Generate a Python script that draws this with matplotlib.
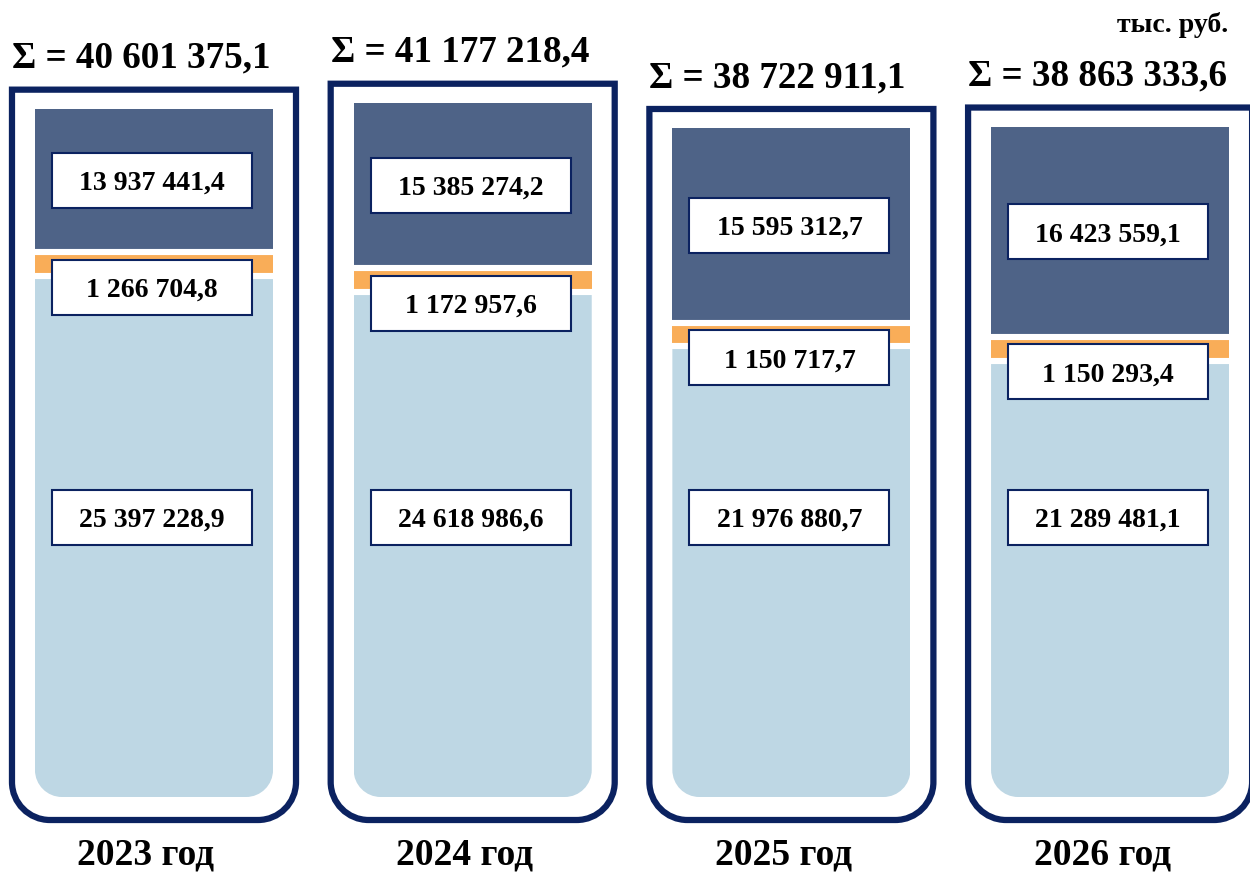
import numpy as np
import matplotlib
matplotlib.use('Agg')
import matplotlib.pyplot as plt
from matplotlib.path import Path
from matplotlib.patches import PathPatch, Rectangle
from matplotlib.transforms import IdentityTransform

# ---------------- data (тыс. руб.) ----------------
years = ['2023 год', '2024 год', '2025 год', '2026 год']
bottom_vals = [25397228.9, 24618986.6, 21976880.7, 21289481.1]
middle_vals = [1266704.8, 1172957.6, 1150717.7, 1150293.4]
top_vals = [13937441.4, 15385274.2, 15595312.7, 16423559.1]
unit_label = 'тыс. руб.'

C_DARK = '#4E6387'
C_ORANGE = '#F9AD58'
C_LIGHT = '#BED7E4'
C_NAVY = '#0B2260'

plt.rcParams['font.family'] = ['Liberation Serif', 'DejaVu Serif']
plt.rcParams['font.weight'] = 'bold'


def fmt(v):
    s = f'{v:,.1f}'
    return s.replace(',', ' ').replace('.', ',')


# piecewise-linear (compressed above the knee) value scale
KNEE = 26.5e6
RATIO = 0.502


def fwd(y):
    y = np.asarray(y, float)
    return np.where(y <= KNEE, y, KNEE + RATIO * (y - KNEE))


def inv(y):
    y = np.asarray(y, float)
    return np.where(y <= KNEE, y, KNEE + (y - KNEE) / RATIO)


def rb_path(x0, x1, y0, y1, r):
    k = 0.5523 * r
    verts = [(x0, y1), (x0, y0 + r), (x0, y0 + r - k), (x0 + r - k, y0), (x0 + r, y0),
             (x1 - r, y0), (x1 - r + k, y0), (x1, y0 + r - k), (x1, y0 + r),
             (x1, y1), (x0, y1)]
    codes = [Path.MOVETO, Path.LINETO, Path.CURVE4, Path.CURVE4, Path.CURVE4,
             Path.LINETO, Path.CURVE4, Path.CURVE4, Path.CURVE4,
             Path.LINETO, Path.CLOSEPOLY]
    return Path(verts, codes)


fig = plt.figure(figsize=(12.5, 8.72), dpi=100)
ax = fig.add_axes([0, 75 / 872, 1, 797 / 872])
ax.set_yscale('function', functions=(fwd, inv))
ax.set_ylim(0, 51.16e6)
ax.set_xlim(-0.4832, 3.439)
ax.axis('off')

x = np.arange(len(years))
W = 0.747
bottom_arr = np.array(bottom_vals)
cum2 = bottom_arr + np.array(middle_vals)
totals = cum2 + np.array(top_vals)

bars_light = ax.bar(x, bottom_vals, W, color=C_LIGHT, zorder=2)
ax.bar(x, middle_vals, W, bottom=bottom_arr, color=C_ORANGE, zorder=2)
ax.bar(x, top_vals, W, bottom=cum2, color=C_DARK, zorder=2)

# white separators between segments
ax.hlines(bottom_arr, x - W / 2, x + W / 2, colors='white', lw=4.4, zorder=3)
ax.hlines(cum2, x - W / 2, x + W / 2, colors='white', lw=4.4, zorder=3)

T = ax.transData
ID = IdentityTransform()
base = T.transform((0, 0))[1]
HALF_OUT = 0.4456

for i in range(len(years)):
    cx = T.transform((x[i], 0))[0]
    xl = T.transform((x[i] - HALF_OUT, 0))[0]
    xr = T.transform((x[i] + HALF_OUT, 0))[0]
    y_tot = T.transform((x[i], totals[i]))[1]
    y_c2 = T.transform((x[i], cum2[i]))[1]
    y_b = T.transform((x[i], bottom_arr[i]))[1]
    top = y_tot + 19
    bot = base - 23

    outer = PathPatch(rb_path(xl, xr, bot, top, 38), fc='white', ec=C_NAVY, lw=4.5,
                      joinstyle='miter', transform=ID, zorder=1, clip_on=False)
    ax.add_patch(outer)

    # rounded bottom of the light segment
    bx0 = T.transform((x[i] - W / 2, 0))[0]
    bx1 = T.transform((x[i] + W / 2, 0))[0]
    clip = PathPatch(rb_path(bx0, bx1, base, base + 2000, 27), transform=ID)
    bars_light[i].set_clip_path(clip)

    # total label
    ax.text(xl, top + 22, f'Σ = {fmt(totals[i])}', transform=ID, ha='left',
            va='baseline', fontsize=26.7, fontweight='bold', color='black', clip_on=False)

    # segment labels
    lab_light_y = ax.transAxes.transform((0, 0.351))[1]
    label_pos = [((y_c2 + y_tot) / 2, top_vals[i]),
                 ((y_b + y_c2) / 2 - 23, middle_vals[i]),
                 (lab_light_y, bottom_vals[i])]
    for cy, v in label_pos:
        lx = cx - 2
        ax.add_patch(Rectangle((lx - 100, cy - 27.5), 200, 55, fc='white', ec=C_NAVY,
                               lw=1.5, transform=ID, zorder=4, clip_on=False))
        ax.text(lx, cy, fmt(v), transform=ID, ha='center', va='center_baseline',
                fontsize=20, fontweight='bold', color='black', zorder=5)

    ax.text(cx - 8, base - 67, years[i], transform=ID, ha='center', va='baseline',
            fontsize=27, fontweight='bold', color='black', clip_on=False)

fig.text(1228 / 1250, 1 - 32 / 872, unit_label, ha='right', va='baseline',
         fontsize=20, fontweight='bold', color='black')

fig.savefig('out.png', dpi=100)
